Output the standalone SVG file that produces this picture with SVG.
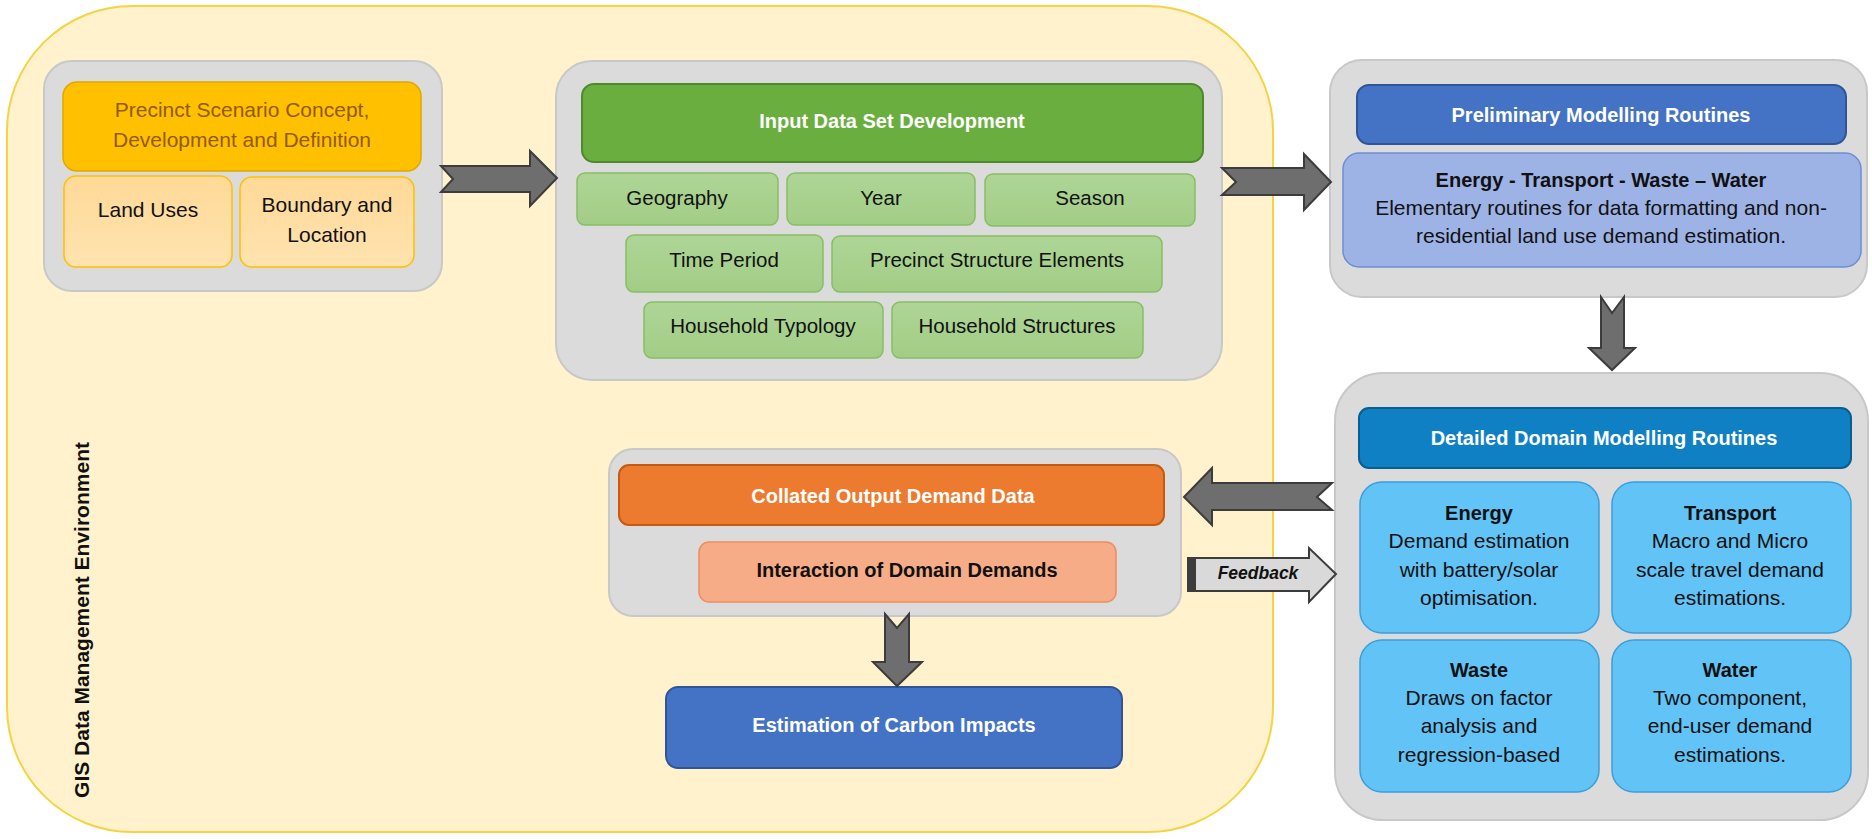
<svg xmlns="http://www.w3.org/2000/svg" width="1872" height="839" viewBox="0 0 1872 839">
  <defs>
    <style>
      .panel { fill: #DBDBDB; stroke: #C8C8C8; stroke-width: 2; }
      .t { font-family: "Liberation Sans", Arial, sans-serif; text-anchor: middle; }
      .reg { font-size: 21px; fill: #111; }
      .bold { font-size: 20px; font-weight: bold; }
      .white { fill: #FFFFFF; }
      .dark { fill: #111; }
      .green-sub { fill: url(#greenGrad); stroke: #86BE63; stroke-width: 1.5; }
      .sky { fill: #62C3F6; stroke: #3A9FDA; stroke-width: 1.5; }
      .arrow { fill: #6E6E6E; stroke: #3C3C3C; stroke-width: 2; stroke-linejoin: miter; }
    </style>
    <linearGradient id="greenGrad" x1="0" y1="0" x2="0" y2="1">
      <stop offset="0" stop-color="#AED596"/>
      <stop offset="1" stop-color="#A2CD86"/>
    </linearGradient>
    <linearGradient id="peachGrad" x1="0" y1="0" x2="0" y2="1">
      <stop offset="0" stop-color="#FFD997"/>
      <stop offset="1" stop-color="#FFE3B0"/>
    </linearGradient>
  </defs>

  <!-- GIS environment backdrop -->
  <g id="gis-environment">
    <rect x="7" y="6" width="1266" height="826" rx="125" fill="#FFF2CC" stroke="#F4D444" stroke-width="2"/>
    <text class="t dark" style="font-size:21px;font-weight:bold" transform="translate(89,620) rotate(-90)">GIS Data Management Environment</text>
  </g>

  <!-- Precinct scenario -->
  <g id="precinct-scenario">
    <rect class="panel" x="44" y="61" width="398" height="230" rx="28"/>
    <rect x="63" y="82" width="358" height="89" rx="14" fill="#FFC000" stroke="#E0A800" stroke-width="1.5"/>
    <text class="t reg" style="fill:#935A08" x="242" y="117">Precinct Scenario Concept,</text>
    <text class="t reg" style="fill:#935A08" x="242" y="147">Development and Definition</text>
    <rect x="64" y="176" width="168" height="91" rx="12" fill="url(#peachGrad)" stroke="#FFC000" stroke-width="1.5"/>
    <text class="t reg" x="148" y="217">Land Uses</text>
    <rect x="240" y="177" width="174" height="90" rx="12" fill="url(#peachGrad)" stroke="#FFC000" stroke-width="1.5"/>
    <text class="t reg" x="327" y="212">Boundary and</text>
    <text class="t reg" x="327" y="242">Location</text>
  </g>

  <!-- Input data set -->
  <g id="input-data-set">
    <rect class="panel" x="556" y="61" width="666" height="319" rx="36"/>
    <rect x="582" y="84" width="621" height="78" rx="12" fill="#6BAE40" stroke="#4E8A2C" stroke-width="2"/>
    <text class="t bold white" x="892" y="128">Input Data Set Development</text>
    <rect class="green-sub" x="577" y="173" width="201" height="52" rx="8"/>
    <text class="t reg" style="font-size:20.5px" x="677" y="205">Geography</text>
    <rect class="green-sub" x="787" y="173" width="188" height="52" rx="8"/>
    <text class="t reg" style="font-size:20.5px" x="881" y="205">Year</text>
    <rect class="green-sub" x="985" y="174" width="210" height="52" rx="8"/>
    <text class="t reg" style="font-size:20.5px" x="1090" y="205">Season</text>
    <rect class="green-sub" x="626" y="235" width="197" height="57" rx="8"/>
    <text class="t reg" style="font-size:20.5px" x="724" y="267">Time Period</text>
    <rect class="green-sub" x="832" y="236" width="330" height="56" rx="8"/>
    <text class="t reg" style="font-size:20.5px" x="997" y="267">Precinct Structure Elements</text>
    <rect class="green-sub" x="644" y="302" width="239" height="56" rx="8"/>
    <text class="t reg" style="font-size:20.5px" x="763" y="333">Household Typology</text>
    <rect class="green-sub" x="892" y="302" width="251" height="56" rx="8"/>
    <text class="t reg" style="font-size:20.5px" x="1017" y="333">Household Structures</text>
  </g>

  <!-- Preliminary modelling -->
  <g id="preliminary-modelling">
    <rect class="panel" x="1330" y="60" width="537" height="237" rx="32"/>
    <rect x="1357" y="85" width="489" height="59" rx="12" fill="#4472C4" stroke="#2F5597" stroke-width="2"/>
    <text class="t bold white" x="1601" y="122">Preliminary Modelling Routines</text>
    <rect x="1343" y="153" width="518" height="114" rx="16" fill="#9DB3E6" stroke="#6E8ED2" stroke-width="1.5"/>
    <text class="t bold dark" x="1601" y="187">Energy - Transport - Waste – Water</text>
    <text class="t reg" x="1601" y="215">Elementary routines for data formatting and non-</text>
    <text class="t reg" x="1601" y="243">residential land use demand estimation.</text>
  </g>

  <!-- Detailed domain modelling -->
  <g id="detailed-domain-modelling">
    <rect class="panel" x="1335" y="373" width="533" height="447" rx="48"/>
    <rect x="1359" y="408" width="492" height="60" rx="10" fill="#0F80C4" stroke="#0A5D90" stroke-width="2"/>
    <text class="t bold white" x="1604" y="445">Detailed Domain Modelling Routines</text>
  </g>
  <g id="energy">
    <rect class="sky" x="1360" y="482" width="239" height="151" rx="22"/>
    <text class="t bold dark" x="1479" y="520">Energy</text>
    <text class="t reg" x="1479" y="548">Demand estimation</text>
    <text class="t reg" x="1479" y="577">with battery/solar</text>
    <text class="t reg" x="1479" y="605">optimisation.</text>
  </g>
  <g id="transport">
    <rect class="sky" x="1612" y="482" width="239" height="151" rx="22"/>
    <text class="t bold dark" x="1730" y="520">Transport</text>
    <text class="t reg" x="1730" y="548">Macro and Micro</text>
    <text class="t reg" x="1730" y="577">scale travel demand</text>
    <text class="t reg" x="1730" y="605">estimations.</text>
  </g>
  <g id="waste">
    <rect class="sky" x="1360" y="640" width="239" height="152" rx="22"/>
    <text class="t bold dark" x="1479" y="677">Waste</text>
    <text class="t reg" x="1479" y="705">Draws on factor</text>
    <text class="t reg" x="1479" y="733">analysis and</text>
    <text class="t reg" x="1479" y="762">regression-based</text>
  </g>
  <g id="water">
    <rect class="sky" x="1612" y="640" width="239" height="152" rx="22"/>
    <text class="t bold dark" x="1730" y="677">Water</text>
    <text class="t reg" x="1730" y="705">Two component,</text>
    <text class="t reg" x="1730" y="733">end-user demand</text>
    <text class="t reg" x="1730" y="762">estimations.</text>
  </g>

  <!-- Collated output -->
  <g id="collated-output">
    <rect class="panel" x="609" y="449" width="572" height="167" rx="24"/>
    <rect x="619" y="465" width="545" height="60" rx="10" fill="#EC7A2F" stroke="#C55A11" stroke-width="2"/>
    <text class="t bold white" x="893" y="503">Collated Output Demand Data</text>
    <rect x="699" y="542" width="417" height="60" rx="10" fill="#F7AC88" stroke="#F08C5E" stroke-width="1.5"/>
    <text class="t bold dark" x="907" y="577">Interaction of Domain Demands</text>
  </g>

  <!-- Carbon impacts -->
  <g id="carbon-impacts">
    <rect x="666" y="687" width="456" height="81" rx="12" fill="#4472C4" stroke="#2F5597" stroke-width="2"/>
    <text class="t bold white" x="894" y="732">Estimation of Carbon Impacts</text>
  </g>

  <!-- Block arrows between stages -->
  <g id="connectors">
    <path class="arrow" d="M441,166 L530,166 L530,151 L557,178 L530,206 L530,192 L441,192 L453,179 Z"/>
    <path class="arrow" d="M1222,168 L1304,168 L1304,154 L1331,182 L1304,210 L1304,195 L1222,195 L1236,182 Z"/>
    <path class="arrow" d="M1601,297 L1612,313 L1624,297 L1624,348 L1635,348 L1612,370 L1589,348 L1601,348 Z"/>
    <path class="arrow" d="M1332,483 L1212,483 L1212,468 L1184,497 L1212,525 L1212,510 L1332,510 L1317,497 Z"/>
    <path class="arrow" d="M885,614 L897,628 L909,614 L909,662 L922,662 L897,686 L873,662 L885,662 Z"/>
    <g id="feedback">
      <path d="M1188,558 L1309,558 L1309,548 L1336,574 L1309,602 L1309,591 L1188,591 Z" fill="#D9D9D9" stroke="#3C3C3C" stroke-width="2"/>
      <rect x="1188" y="558" width="8" height="33" fill="#3C3C3C"/>
      <text class="t dark" x="1258" y="579" style="font-size:17.5px;font-weight:bold;font-style:italic">Feedback</text>
    </g>
  </g>
</svg>
